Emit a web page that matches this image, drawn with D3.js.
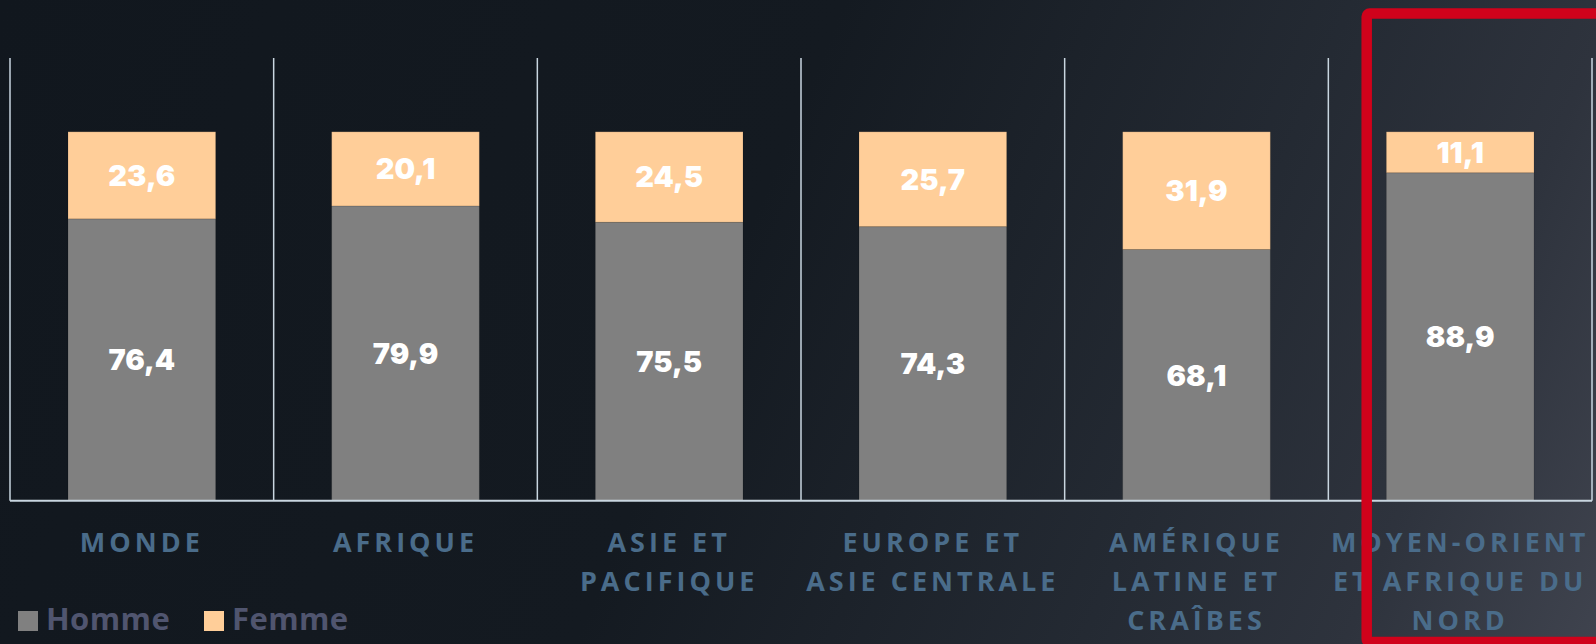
<!DOCTYPE html>
<html>
<head>
<meta charset="utf-8">
<script src="https://cdn.jsdelivr.net/npm/d3@7"></script>
<style>
  html, body { margin: 0; padding: 0; background: #11171e; overflow: hidden; }
  svg { display: block; }
</style>
</head>
<body>
<svg id="chart" width="1596" height="644"></svg>
<script>
// ---- data ----
const categories = [
  "MONDE",
  "AFRIQUE",
  "ASIE ET\nPACIFIQUE",
  "EUROPE ET\nASIE CENTRALE",
  "AMÉRIQUE\nLATINE ET\nCRAÎBES",
  "MOYEN-ORIENT\nET AFRIQUE DU\nNORD"
];
const homme = [76.4, 79.9, 75.5, 74.3, 68.1, 88.9];
const femme = [23.6, 20.1, 24.5, 25.7, 31.9, 11.1];
const seriesNames = ["Homme", "Femme"];
const seriesColors = ["#808080", "#ffce99"];
const yMax = 120;

// ---- setup ----
const W = 1596, H = 644;
const svg = d3.select("#chart");

// background gradient
const defs = svg.append("defs");
const grad = defs.append("linearGradient")
  .attr("id", "bg").attr("gradientUnits", "userSpaceOnUse")
  .attr("x1", 0).attr("y1", 0).attr("x2", 1596).attr("y2", 670);
[[0, "#11171e"], [0.45, "#141a21"], [0.72, "#242a33"], [0.86, "#2e333d"], [1, "#40444f"]]
  .forEach(([o, c]) => grad.append("stop").attr("offset", o).attr("stop-color", c));
svg.append("rect").attr("width", W).attr("height", H).attr("fill", "url(#bg)");

const x = d3.scaleBand()
  .domain(d3.range(categories.length))
  .range([10, 1592])
  .paddingInner(0.44)
  .paddingOuter(0.22);
const y = d3.scaleLinear().domain([0, yMax]).range([500.8, 58]);

const fr = d3.formatLocale({decimal: ",", thousands: " ", grouping: [3], currency: ["", " €"]});
const fmt = fr.format(".1f");

// vertical separators
const bounds = d3.range(categories.length + 1).map(i => x.range()[0] + i * x.step());
svg.append("g").selectAll("line").data(bounds).join("line")
  .attr("x1", d => d).attr("x2", d => d)
  .attr("y1", y(yMax)).attr("y2", y(0))
  .attr("stroke", "#c9d6e0").attr("stroke-width", 1.5);

// stacked bars
const rows = categories.map((c, i) => ({i, Homme: homme[i], Femme: femme[i]}));
const stack = d3.stack().keys(seriesNames)(rows);
const color = d3.scaleOrdinal().domain(seriesNames).range(seriesColors);

const layers = svg.append("g").selectAll("g").data(stack).join("g")
  .attr("fill", d => color(d.key));
layers.selectAll("rect").data(d => d).join("rect")
  .attr("x", d => x(d.data.i))
  .attr("width", x.bandwidth())
  .attr("y", d => y(d[1]))
  .attr("height", d => y(d[0]) - y(d[1]))
  .attr("stroke", "rgba(0,0,0,0.12)").attr("stroke-width", 1);

// value labels
const vfs = 29;
layers.selectAll("text").data(d => d.map(v => ({v, key: d.key}))).join("text")
  .attr("x", d => x(d.v.data.i) + x.bandwidth() / 2)
  .attr("y", d => (y(d.v[0]) + y(d.v[1])) / 2 + vfs * 0.36)
  .attr("text-anchor", "middle")
  .attr("fill", "#ffffff")
  .style("font-family", "Inter, 'Noto Sans', sans-serif")
  .style("font-weight", 900)
  .style("font-size", vfs + "px")
  .text(d => fmt(d.v.data[d.key]));

// baseline
svg.append("line")
  .attr("x1", x.range()[0]).attr("x2", x.range()[1])
  .attr("y1", y(0)).attr("y2", y(0))
  .attr("stroke", "#c9d6e0").attr("stroke-width", 2);

// category labels
const cfs = 27, lh = 39;
const cat = svg.append("g").selectAll("text").data(categories).join("text")
  .attr("text-anchor", "middle")
  .attr("fill", "#4a6c8a")
  .style("font-family", "'Open Sans', sans-serif")
  .style("font-weight", 700)
  .style("font-size", cfs + "px")
  .style("letter-spacing", "4px");
cat.each(function(d, i) {
  const t = d3.select(this);
  d.split("\n").forEach((line, k) => {
    t.append("tspan")
      .attr("x", x(i) + x.bandwidth() / 2)
      .attr("y", 551.5 + k * lh)
      .text(line);
  });
});

// legend
const leg = svg.append("g");
const legX = [18, 204];
seriesNames.forEach((name, i) => {
  leg.append("rect").attr("x", legX[i]).attr("y", 611).attr("width", 20).attr("height", 20)
    .attr("fill", seriesColors[i]);
  leg.append("text").attr("x", legX[i] + 28).attr("y", 630)
    .attr("fill", "#50556f")
    .style("font-family", "'Open Sans', sans-serif")
    .style("font-weight", 700)
    .style("font-size", "31px")
    .style("letter-spacing", "0.4px")
    .text(name);
});

// highlight frame
svg.append("rect")
  .attr("x", 1366.7).attr("y", 13.6)
  .attr("width", 300).attr("height", 628.5)
  .attr("rx", 3)
  .attr("fill", "none")
  .attr("stroke", "#d0021b")
  .attr("stroke-width", 10.5);
</script>
</body>
</html>
